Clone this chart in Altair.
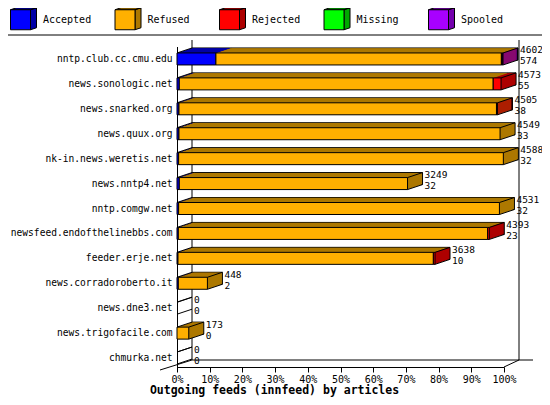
import altair as alt
import pandas as pd

# ---------------- data ----------------
hosts = ["nntp.club.cc.cmu.edu", "news.sonologic.net", "news.snarked.org",
         "news.quux.org", "nk-in.news.weretis.net", "news.nntp4.net",
         "nntp.comgw.net", "newsfeed.endofthelinebbs.com", "feeder.erje.net",
         "news.corradoroberto.it", "news.dne3.net", "news.trigofacile.com",
         "chmurka.net"]
offered = [4602, 4573, 4505, 4549, 4588, 3249, 4531, 4393, 3638, 448, 0, 173, 0]
accepted_count = [574, 55, 38, 33, 32, 32, 32, 23, 10, 2, 0, 0, 0]

statuses = ["Accepted", "Refused", "Rejected", "Missing", "Spooled"]
front_colors = ["#0000FF", "#FFB000", "#FF0000", "#00FF00", "#A800FF"]
side_colors = ["#0000A8", "#AD7800", "#AD0000", "#00A800", "#7400AD"]

pct_accepted = [11.9, 0.7, 0.6, 0.6, 0.5, 0.7, 0.5, 0.4, 0.3, 0.4, 0, 0, 0]
pct_refused = [87.3, 96.0, 97.1, 98.2, 99.3, 69.8, 98.1, 94.6, 78.1, 8.9, 0, 3.6, 0]
pct_rejected = [0.3, 2.4, 0.3, 0, 0, 0, 0, 0.5, 0.5, 0, 0, 0, 0]
pct_missing = [0, 0, 0, 0, 0, 0, 0, 0, 0, 0, 0, 0, 0]
pct_spooled = [0.2, 0, 0, 0, 0, 0, 0, 0, 0, 0, 0, 0, 0]

TITLE = "Outgoing feeds (innfeed) by articles"
MONO = "DejaVu Sans Mono"

# ---------------- layout constants ----------------
W, H = 327, 322          # plot area (0%..100%, front plane)
DX, DY = 15, 5           # depth of the 3D bars
FACE = 12                # bar front-face thickness
STEPS = 15               # layers used to fill the depth

# ---------------- tables ----------------
series = [pct_accepted, pct_refused, pct_rejected, pct_missing, pct_spooled]
rows, host_rows = [], []
for i, h in enumerate(hosts):
    pos = 0.0
    for s, arr in zip(statuses, series):
        v = arr[i]
        if v > 0:
            rows.append({"host": h, "status": s, "x0": pos, "x1": pos + v})
            pos += v
    host_rows.append({"host": h, "end": pos, "offered": offered[i],
                      "accepted": accepted_count[i], "zero": 0})
seg = pd.DataFrame(rows)
hdf = pd.DataFrame(host_rows)
one = pd.DataFrame({"z": [0]})

XS = alt.Scale(domain=[0, 100], nice=False, zero=True)
YS = alt.Scale(domain=hosts, range=[1.5, 325.5], paddingInner=0, paddingOuter=0)
X_AXIS = alt.Axis(values=list(range(0, 101, 10)), labelExpr="datum.value + '%'",
                  labelOverlap=False, labelFlush=False,
                  tickSize=5, grid=False, titleX=97, titleY=23.5,
                  titleBaseline="middle", titleAlign="center")
Y_AXIS = alt.Axis(ticks=False, labelPadding=5, grid=False, labelFontSize=9.6,
                  labelLimit=300)


def X(field=None, datum=None):
    if datum is not None:
        return alt.X(datum=datum, scale=XS, axis=X_AXIS, title=TITLE)
    return alt.X(field, type="quantitative", scale=XS, axis=X_AXIS, title=TITLE)


def Y():
    return alt.Y("host:N", scale=YS, axis=Y_AXIS, title=None, sort=hosts)


front_scale = alt.Scale(domain=statuses, range=front_colors)
side_scale = alt.Scale(domain=statuses, range=side_colors)

common_leg = dict(orient="none", legendX=-167, legendY=-36, direction="horizontal",
                  columns=5, gridAlign="all", columnPadding=20.5, padding=0,
                  title=None, symbolSize=400, labelOffset=12, labelFont=MONO,
                  labelFontSize=10, labelColor="black", symbolStrokeColor="black",
                  symbolStrokeWidth=1, symbolOpacity=1)
front_legend = alt.Legend(symbolType="square", **common_leg)
side_legend = alt.Legend(
    symbolType="M-1,-1L-0.4,-1.2L1.6,-1.2L1,-1Z M1,-1L1.6,-1.2L1.6,0.8L1,1Z",
    labelOpacity=0, **common_leg)

# ---------------- frame (walls / floor / divider) ----------------
k = dict(color="black", strokeWidth=1)
frame = alt.layer(
    alt.Chart(one).mark_rule(xOffset=DX, **k).encode(
        x=X(datum=0), y=alt.value(-DY), y2=alt.value(H - 7)),
    alt.Chart(one).mark_rule(xOffset=DX, **k).encode(
        x=X(datum=100), y=alt.value(-DY), y2=alt.value(H - 7)),
    alt.Chart(one).mark_rule(xOffset=DX, x2Offset=DX + 14, **k).encode(
        x=X(datum=0), x2=alt.X2(datum=100), y=alt.value(H - 7)),
    alt.Chart(one).mark_rule(x2Offset=DX, **k).encode(
        x=X(datum=100), x2=alt.X2(datum=100), y=alt.value(H), y2=alt.value(H - 7)),
    alt.Chart(one).mark_rule(xOffset=-17, x2Offset=DX, **k).encode(
        x=X(datum=0), x2=alt.X2(datum=0), y=alt.value(H + 3), y2=alt.value(H - 7)),
    # legend divider
    alt.Chart(one).mark_rule(**k).encode(
        x=alt.value(-169), x2=alt.value(365), y=alt.value(-10)),
)

# ---------------- 3D bars ----------------
depth_layers = []
for s in range(STEPS, 0, -1):
    ox, oy = DX * s / STEPS, -DY * s / STEPS
    props = dict(size=FACE, xOffset=ox, x2Offset=ox, yOffset=oy)
    if s == STEPS:
        props.update(stroke="black", strokeWidth=1)
    else:
        props.update(strokeWidth=0)
    depth_layers.append(
        alt.Chart(seg).mark_bar(**props).encode(
            x=X("x0"), x2="x1", y=Y(),
            fill=alt.Fill("status:N", scale=side_scale, legend=side_legend)))
depth = alt.layer(*depth_layers)

front = alt.Chart(seg).mark_bar(size=FACE, stroke="black", strokeWidth=1).encode(
    x=X("x0"), x2="x1", y=Y(),
    fill=alt.Fill("status:N", scale=front_scale, legend=front_legend))

DIAG = "M0,0L1.5,-0.5"
dprops = dict(shape=DIAG, size=400, filled=False, stroke="black", strokeWidth=1,
              opacity=1)
diag_tl = alt.Chart(hdf).mark_point(yOffset=-FACE / 2, **dprops).encode(
    x=X("zero"), y=Y())
diag_tr = alt.Chart(hdf).mark_point(yOffset=-FACE / 2, **dprops).encode(
    x=X("end"), y=Y())
diag_br = alt.Chart(hdf).mark_point(yOffset=FACE / 2, **dprops).encode(
    x=X("end"), y=Y())

tprops = dict(align="left", baseline="middle", dx=DX + 2, font=MONO, fontSize=9.5,
              color="black")
txt1 = alt.Chart(hdf).mark_text(dy=-8.5, **tprops).encode(
    x=X("end"), y=Y(), text=alt.Text("offered:Q", format="d"))
txt2 = alt.Chart(hdf).mark_text(dy=2.5, **tprops).encode(
    x=X("end"), y=Y(), text=alt.Text("accepted:Q", format="d"))

chart = alt.layer(frame, depth, front, diag_tl, diag_tr, diag_br, txt1, txt2).resolve_scale(
    fill="independent"
).properties(
    width=W, height=H,
    autosize=alt.AutoSizeParams(type="none"),
    padding={"left": 169, "top": 37, "right": 38, "bottom": 30},
    background="white",
).configure_view(stroke=None).configure_axis(
    domainColor="black", domainWidth=1, tickColor="black", tickWidth=1,
    labelFont=MONO, labelFontSize=10, labelColor="black",
    titleFont=MONO, titleFontSize=11.5, titleFontWeight="bold", titleColor="black",
).configure_axisX(labelPadding=2)

chart.save("out.html", embed_options={"renderer": "svg", "actions": False})
